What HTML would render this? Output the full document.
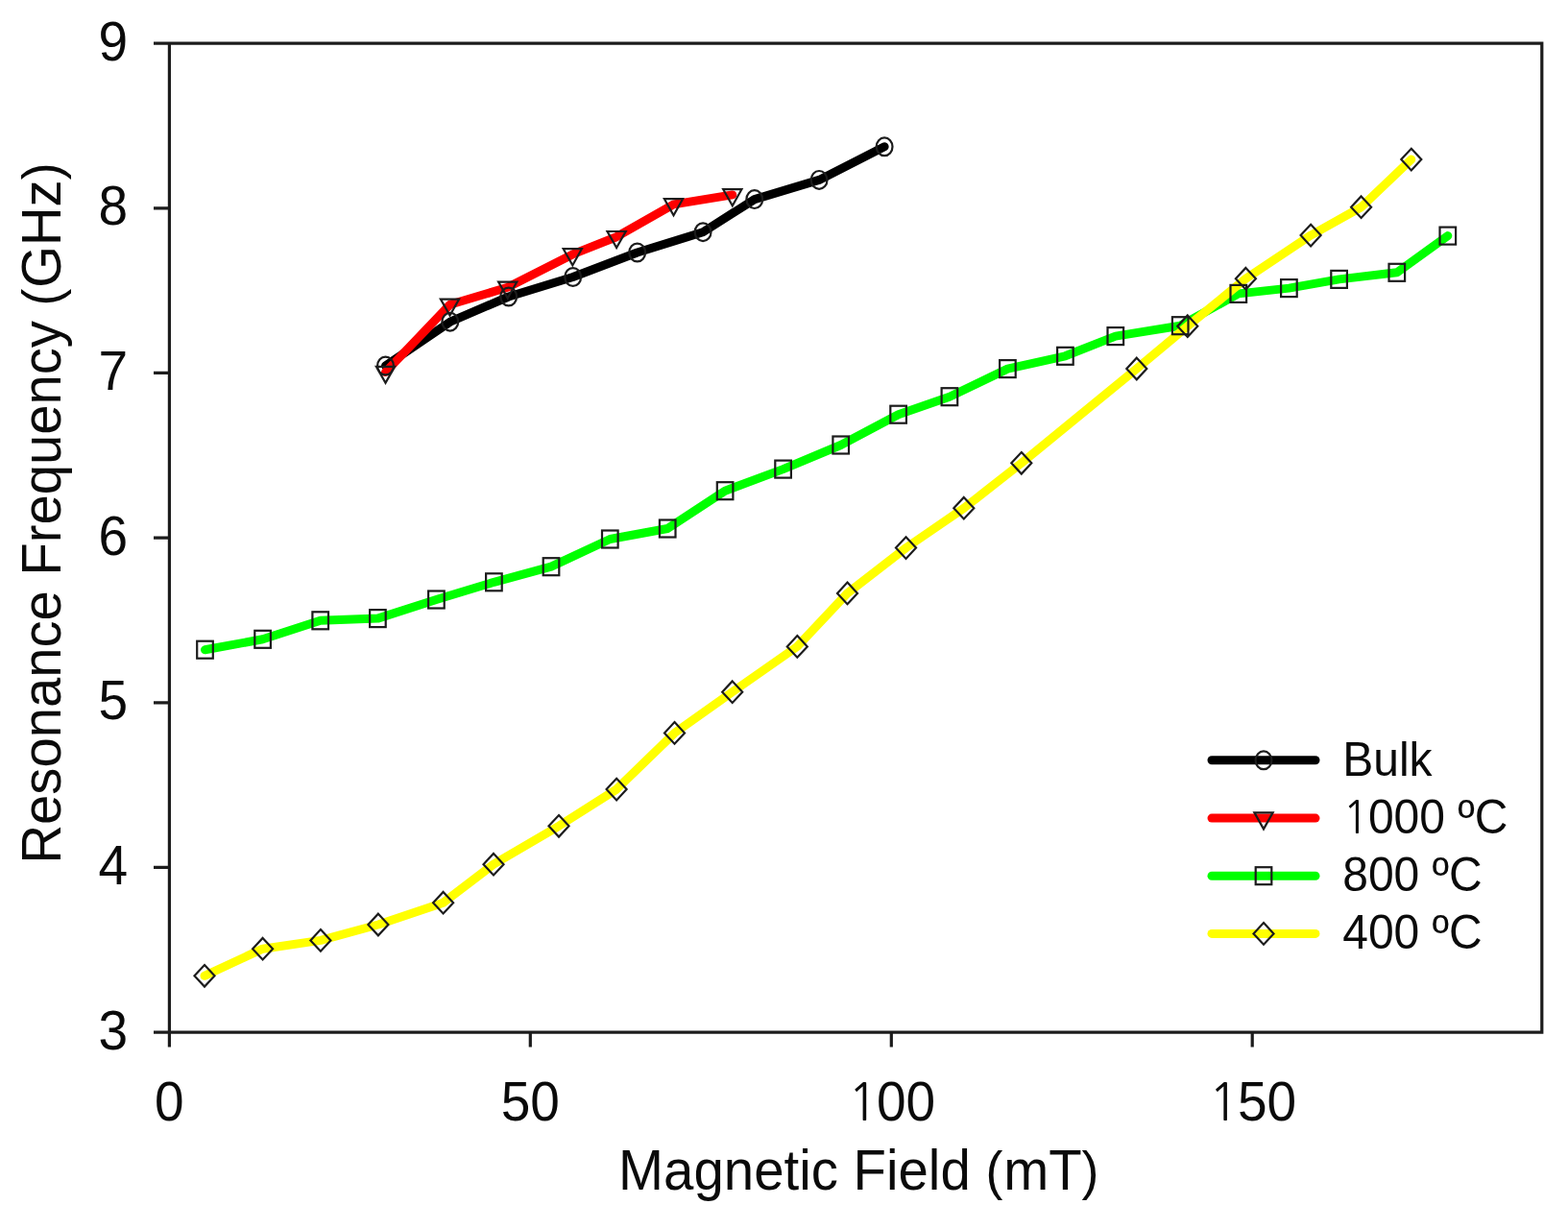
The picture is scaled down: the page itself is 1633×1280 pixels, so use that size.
<!DOCTYPE html>
<html><head><meta charset="utf-8"><title>Resonance Frequency vs Magnetic Field</title>
<style>
html,body{margin:0;padding:0;background:#fff;}
body{width:1633px;height:1280px;overflow:hidden;}
svg{display:block;}
text{font-family:"Liberation Sans",Arial,sans-serif;fill:#0a0a0a;}
</style></head><body>
<svg width="1633" height="1280" viewBox="0 0 1633 1280">
<rect width="1633" height="1280" fill="#fff"/>

<g stroke="#1c1c1c" stroke-width="3.2" fill="none" stroke-linecap="butt">
<path d="M160,45.1 H1605.8 V1075.1 H160 M176.4,45.1 V1090.5"/>
<path d="M160,903.4 H176.4 M160,731.8 H176.4 M160,560.1 H176.4 M160,388.4 H176.4 M160,216.8 H176.4 M552.3,1075 V1090.5 M928.3,1075 V1090.5 M1304.2,1075 V1090.5"/>
</g>
<g font-size="55" text-anchor="end">
<text transform="translate(0,1092.7) scale(1,1.03)" x="133">3</text>
<text transform="translate(0,921) scale(1,1.03)" x="133">4</text>
<text transform="translate(0,749.4) scale(1,1.03)" x="133">5</text>
<text transform="translate(0,577.7) scale(1,1.03)" x="133">6</text>
<text transform="translate(0,406) scale(1,1.03)" x="133">7</text>
<text transform="translate(0,234.4) scale(1,1.03)" x="133">8</text>
<text transform="translate(0,62.7) scale(1,1.03)" x="133">9</text>
</g>
<g font-size="55" text-anchor="middle">
<text transform="translate(0,1167.4) scale(1,1.03)" x="176.4">0</text>
<text transform="translate(0,1167.4) scale(1,1.03)" x="552.3">50</text>
<text transform="translate(0,1167.4) scale(1,1.03)" text-anchor="start"><tspan x="882.9" font-family="NanumGothic, Liberation Sans, sans-serif" font-size="52">1</tspan><tspan x="913">0</tspan><tspan x="943.6">0</tspan></text>
<text transform="translate(0,1167.4) scale(1,1.03)" text-anchor="start"><tspan x="1258.8" font-family="NanumGothic, Liberation Sans, sans-serif" font-size="52">1</tspan><tspan x="1288.9">5</tspan><tspan x="1319.5">0</tspan></text>
</g>
<text transform="translate(894.3,1239) scale(1,1.035)" font-size="56.4" text-anchor="middle">Magnetic Field <tspan font-size="53.7" dy="-0.8">(</tspan><tspan dx="0.9" dy="0.8">mT</tspan><tspan font-size="53.7" dy="-0.8">)</tspan></text>
<text transform="translate(63,534.5) rotate(-90) scale(1,1.035)" font-size="56.2" text-anchor="middle">Resonance Frequency <tspan font-size="53.6" dy="-0.6">(</tspan><tspan dx="0.9" dy="0.6">GHz</tspan><tspan font-size="53.6" dy="-0.6">)</tspan></text>
<g fill="none" stroke-linejoin="round" stroke-linecap="round">
<path d="M213.5,676.7 L273.6,665.8 L333.7,646.3 L393.4,644.1 L454.4,624.5 L514.4,606.3 L574,590.2 L635.3,561.5 L695.2,550.5 L755.1,511.2 L815.6,488.6 L875.7,463.5 L935.6,431.7 L988.9,413.2 L1049.4,384.1 L1109.4,370.8 L1161.8,350.1 L1229.2,339.2 L1289.8,305.9 L1342.4,300.1 L1394.6,290.9 L1454.8,283.8 L1507.8,245.6" stroke="#00ff00" stroke-width="9"/>
<path d="M213,1016.3 L273.6,988.2 L333.9,979.4 L393.9,963 L461.6,940.2 L514,900.2 L582,860.3 L642.1,822.1 L702.5,763.4 L762.7,720.7 L830.3,673.4 L882.5,617.9 L943.5,570.6 L1003.8,529.2 L1063.8,482.3 L1183.8,384 L1236.8,339.7 L1297.4,290.2 L1365.1,245.1 L1417.6,215.7 L1469.8,166.1" stroke="#ffff00" stroke-width="9"/>
<path d="M401.5,381 L468.8,335.2 L529.7,309 L596.7,288.5 L663.7,263 L732.1,241.7 L785.8,207.6 L853.1,187.4 L921.1,152.8" stroke="#000" stroke-width="9"/>
<path d="M401.5,387.5 L468.5,317.3 L528.7,299.3 L596.3,264.9 L642.1,246.7 L701.5,212.9 L762.8,202.9" stroke="#ff0000" stroke-width="9"/>
</g>
<g fill="none" stroke="#1c1c1c" stroke-width="2.2">
<rect x="205.2" y="667.7" width="16.6" height="18"/><rect x="265.3" y="656.8" width="16.6" height="18"/><rect x="325.4" y="637.3" width="16.6" height="18"/><rect x="385.1" y="635.1" width="16.6" height="18"/><rect x="446.1" y="615.5" width="16.6" height="18"/><rect x="506.1" y="597.3" width="16.6" height="18"/><rect x="565.7" y="581.2" width="16.6" height="18"/><rect x="627" y="552.5" width="16.6" height="18"/><rect x="686.9" y="541.5" width="16.6" height="18"/><rect x="746.8" y="502.2" width="16.6" height="18"/><rect x="807.3" y="479.6" width="16.6" height="18"/><rect x="867.4" y="454.5" width="16.6" height="18"/><rect x="927.3" y="422.7" width="16.6" height="18"/><rect x="980.6" y="404.2" width="16.6" height="18"/><rect x="1041.1" y="375.1" width="16.6" height="18"/><rect x="1101.1" y="361.8" width="16.6" height="18"/><rect x="1153.5" y="341.1" width="16.6" height="18"/><rect x="1220.9" y="330.2" width="16.6" height="18"/><rect x="1281.5" y="296.9" width="16.6" height="18"/><rect x="1334.1" y="291.1" width="16.6" height="18"/><rect x="1386.3" y="281.9" width="16.6" height="18"/><rect x="1446.5" y="274.8" width="16.6" height="18"/><rect x="1499.5" y="236.6" width="16.6" height="18"/>
<path d="M213,1005 L223.5,1016.3 L213,1027.6 L202.5,1016.3 Z"/><path d="M273.6,976.9 L284.1,988.2 L273.6,999.5 L263.1,988.2 Z"/><path d="M333.9,968.1 L344.4,979.4 L333.9,990.7 L323.4,979.4 Z"/><path d="M393.9,951.7 L404.4,963 L393.9,974.3 L383.4,963 Z"/><path d="M461.6,928.9 L472.1,940.2 L461.6,951.5 L451.1,940.2 Z"/><path d="M514,888.9 L524.5,900.2 L514,911.5 L503.5,900.2 Z"/><path d="M582,849 L592.5,860.3 L582,871.6 L571.5,860.3 Z"/><path d="M642.1,810.8 L652.6,822.1 L642.1,833.4 L631.6,822.1 Z"/><path d="M702.5,752.1 L713,763.4 L702.5,774.7 L692,763.4 Z"/><path d="M762.7,709.4 L773.2,720.7 L762.7,732 L752.2,720.7 Z"/><path d="M830.3,662.1 L840.8,673.4 L830.3,684.7 L819.8,673.4 Z"/><path d="M882.5,606.6 L893,617.9 L882.5,629.2 L872,617.9 Z"/><path d="M943.5,559.3 L954,570.6 L943.5,581.9 L933,570.6 Z"/><path d="M1003.8,517.9 L1014.3,529.2 L1003.8,540.5 L993.3,529.2 Z"/><path d="M1063.8,471 L1074.3,482.3 L1063.8,493.6 L1053.3,482.3 Z"/><path d="M1183.8,372.7 L1194.3,384 L1183.8,395.3 L1173.3,384 Z"/><path d="M1236.8,328.4 L1247.3,339.7 L1236.8,351 L1226.3,339.7 Z"/><path d="M1297.4,278.9 L1307.9,290.2 L1297.4,301.5 L1286.9,290.2 Z"/><path d="M1365.1,233.8 L1375.6,245.1 L1365.1,256.4 L1354.6,245.1 Z"/><path d="M1417.6,204.4 L1428.1,215.7 L1417.6,227 L1407.1,215.7 Z"/><path d="M1469.8,154.8 L1480.3,166.1 L1469.8,177.4 L1459.3,166.1 Z"/>
<ellipse cx="401.5" cy="381" rx="8.4" ry="9.4"/><ellipse cx="468.8" cy="335.2" rx="8.4" ry="9.4"/><ellipse cx="529.7" cy="309" rx="8.4" ry="9.4"/><ellipse cx="596.7" cy="288.5" rx="8.4" ry="9.4"/><ellipse cx="663.7" cy="263" rx="8.4" ry="9.4"/><ellipse cx="732.1" cy="241.7" rx="8.4" ry="9.4"/><ellipse cx="785.8" cy="207.6" rx="8.4" ry="9.4"/><ellipse cx="853.1" cy="187.4" rx="8.4" ry="9.4"/><ellipse cx="921.1" cy="152.8" rx="8.4" ry="9.4"/>
<path d="M391.9,381.8 L411.1,381.8 L401.5,398.8 Z"/><path d="M458.9,311.6 L478.1,311.6 L468.5,328.6 Z"/><path d="M519.1,293.6 L538.3,293.6 L528.7,310.6 Z"/><path d="M586.7,259.2 L605.9,259.2 L596.3,276.2 Z"/><path d="M632.5,241 L651.7,241 L642.1,258 Z"/><path d="M691.9,207.2 L711.1,207.2 L701.5,224.2 Z"/><path d="M753.2,197.2 L772.4,197.2 L762.8,214.2 Z"/>
</g>
<g>
<path d="M1262,791.8 H1370" stroke="#000" stroke-width="9" stroke-linecap="round" fill="none"/>
<g fill="none" stroke="#1c1c1c" stroke-width="2.2"><ellipse cx="1316" cy="791.8" rx="8.4" ry="9.4"/></g>
<text transform="translate(0,807.8) scale(1,1.03)" x="1398.2" font-size="48">Bulk</text>
<path d="M1262,852.1 H1370" stroke="#ff0000" stroke-width="9" stroke-linecap="round" fill="none"/>
<g fill="none" stroke="#1c1c1c" stroke-width="2.2"><path d="M1306.4,846.4 L1325.6,846.4 L1316,863.4 Z"/></g>
<text transform="translate(0,868.1) scale(1,1.03)" x="1398.2" font-size="48"><tspan font-family="NanumGothic, Liberation Sans, sans-serif" font-size="44.6" dx="0.4">1</tspan><tspan x="1424.9">000 ºC</tspan></text>
<path d="M1262,912.2 H1370" stroke="#00ff00" stroke-width="9" stroke-linecap="round" fill="none"/>
<g fill="none" stroke="#1c1c1c" stroke-width="2.2"><rect x="1307.7" y="903.2" width="16.6" height="18"/></g>
<text transform="translate(0,928.2) scale(1,1.03)" x="1398.2" font-size="48">800 ºC</text>
<path d="M1262,972.4 H1370" stroke="#ffff00" stroke-width="9" stroke-linecap="round" fill="none"/>
<g fill="none" stroke="#1c1c1c" stroke-width="2.2"><path d="M1316,961.1 L1326.5,972.4 L1316,983.7 L1305.5,972.4 Z"/></g>
<text transform="translate(0,988.4) scale(1,1.03)" x="1398.2" font-size="48">400 ºC</text>
</g>
</svg>
</body></html>
